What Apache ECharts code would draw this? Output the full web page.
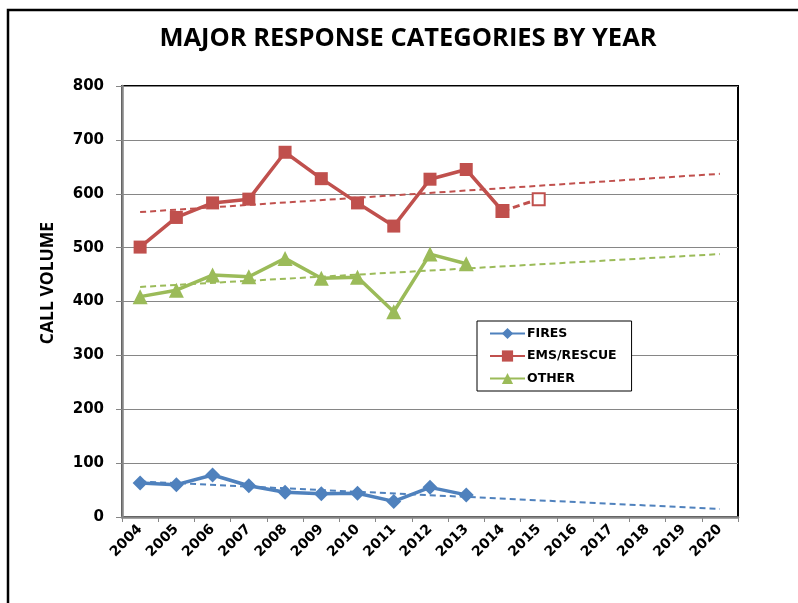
<!DOCTYPE html>
<html>
<head>
<meta charset="utf-8">
<title>Major Response Categories by Year</title>
<script src="https://cdn.jsdelivr.net/npm/echarts@6/dist/echarts.min.js"></script>
<style>
  html, body { margin: 0; padding: 0; background: #fff; }
  #chart { width: 798px; height: 603px; }
</style>
</head>
<body>
<div id="chart"></div>
<script>
// Years on the category axis (history plus trend forecast to 2020)
const years = ['2004','2005','2006','2007','2008','2009','2010','2011','2012','2013',
               '2014','2015','2016','2017','2018','2019','2020'];

// Call volumes by year
const fires     = [63, 60, 78, 58, 46, 43, 44, 29, 55, 41];
const emsRescue = [501, 556, 583, 590, 677, 628, 583, 540, 627, 645, 568];
const other     = [409, 421, 449, 446, 480, 443, 445, 381, 488, 470];

// Projected EMS/RESCUE value (2014 actual -> 2015 projection)
const emsProjYears  = ['2014', '2015'];
const emsProjValues = [568, 590];

// Linear trend lines: value at 2004 and at 2020
const firesTrend = [66, 15];
const emsTrend   = [566, 637];
const otherTrend = [427, 488];

// Y axis range
const yMin = 0, yMax = 800, yStep = 100;

const BLUE = '#4F81BD', RED = '#C0504D', GREEN = '#9BBB59';
const GRAY = '#868686';
const TITLE_FONT = '"Open Sans", "Noto Sans", sans-serif';
const FONT = '"DejaVu Sans", "Noto Sans", sans-serif';

function padded(values) {
  return years.map((_, i) => (i < values.length ? values[i] : null));
}
function trendData(ends) {
  return years.map((_, i) => (i === 0 ? ends[0] : i === years.length - 1 ? ends[1] : null));
}
function placed(cats, values) {
  return years.map(y => {
    const k = cats.indexOf(y);
    return k >= 0 ? values[k] : null;
  });
}

function trendSeries(name, color, ends) {
  return {
    name: name,
    type: 'line',
    data: trendData(ends),
    connectNulls: true,
    showSymbol: false,
    symbol: 'none',
    silent: true,
    z: 1,
    lineStyle: { color: color, width: 2, type: [6, 4] }
  };
}

const chart = echarts.init(document.getElementById('chart'), null, { renderer: 'canvas' });

chart.setOption({
  animation: false,
  backgroundColor: '#fff',
  graphic: [
    {
      type: 'rect',
      silent: true,
      shape: { x: 8, y: 10, width: 1000, height: 1000 },
      style: { fill: 'none', stroke: '#000', lineWidth: 2.5 }
    },
    {
      type: 'text',
      silent: true,
      x: 408,
      y: 39,
      style: {
        text: 'MAJOR RESPONSE CATEGORIES BY YEAR',
        fontFamily: TITLE_FONT,
        fontWeight: 'bold',
        fontSize: 25.5,
        fill: '#000',
        align: 'center',
        verticalAlign: 'middle'
      }
    },
    {
      type: 'text',
      silent: true,
      x: 48,
      y: 283,
      rotation: Math.PI / 2,
      style: {
        text: 'CALL VOLUME',
        fontFamily: TITLE_FONT,
        fontWeight: 'bold',
        fontSize: 17.5,
        fill: '#000',
        align: 'center',
        verticalAlign: 'middle'
      }
    }
  ],
  legend: {
    orient: 'vertical',
    left: 477,
    top: 321,
    data: ['FIRES', 'EMS/RESCUE', 'OTHER'],
    backgroundColor: '#fff',
    borderColor: '#000',
    borderWidth: 1,
    padding: [6, 15, 6, 12],
    itemWidth: 35,
    itemHeight: 14,
    itemGap: 9.5,
    textStyle: { fontFamily: FONT, fontWeight: 'bold', fontSize: 12.5, color: '#000', padding: [0, 0, 0, -3] }
  },
  grid: {
    left: 122,
    right: 60,
    top: 86,
    bottom: 86,
    show: true,
    borderColor: '#000',
    borderWidth: 2,
    containLabel: false
  },
  xAxis: {
    type: 'category',
    data: years,
    boundaryGap: true,
    axisLine: { show: true, lineStyle: { color: GRAY, width: 2.5 } },
    axisTick: { show: true, length: 5, alignWithLabel: false, lineStyle: { color: GRAY, width: 1 } },
    axisLabel: {
      rotate: 45,
      interval: 0,
      margin: 10,
      fontFamily: FONT,
      fontWeight: 'bold',
      fontSize: 14,
      color: '#000'
    },
    splitLine: { show: false }
  },
  yAxis: {
    type: 'value',
    min: yMin,
    max: yMax,
    interval: yStep,
    axisLine: { show: true, lineStyle: { color: GRAY, width: 2.5 } },
    axisTick: { show: true, length: 6, lineStyle: { color: GRAY, width: 1 } },
    axisLabel: {
      margin: 18,
      fontFamily: FONT,
      fontWeight: 'bold',
      fontSize: 15,
      color: '#000'
    },
    splitLine: { show: true, lineStyle: { color: GRAY, width: 1 } }
  },
  series: [
    trendSeries('FIRES trend', BLUE, firesTrend),
    trendSeries('EMS/RESCUE trend', RED, emsTrend),
    trendSeries('OTHER trend', GREEN, otherTrend),
    {
      name: 'EMS/RESCUE projected',
      type: 'line',
      data: placed(emsProjYears, emsProjValues),
      z: 3,
      symbol: 'rect',
      symbolSize: 12,
      showAllSymbol: true,
      lineStyle: { color: RED, width: 3, type: [7, 4] },
      itemStyle: { color: '#fff', borderColor: RED, borderWidth: 2 },
      emphasis: { disabled: true }
    },
    {
      name: 'FIRES',
      type: 'line',
      data: padded(fires),
      z: 4,
      symbol: 'diamond',
      symbolSize: 15,
      lineStyle: { color: BLUE, width: 3.5 },
      itemStyle: { color: BLUE },
      emphasis: { disabled: true }
    },
    {
      name: 'EMS/RESCUE',
      type: 'line',
      data: padded(emsRescue),
      z: 4,
      symbol: 'rect',
      symbolSize: 13,
      lineStyle: { color: RED, width: 3.5 },
      itemStyle: { color: RED },
      emphasis: { disabled: true }
    },
    {
      name: 'OTHER',
      type: 'line',
      data: padded(other),
      z: 4,
      symbol: 'triangle',
      symbolSize: 15,
      lineStyle: { color: GREEN, width: 3.5 },
      itemStyle: { color: GREEN },
      emphasis: { disabled: true }
    }
  ]
});
</script>
</body>
</html>
